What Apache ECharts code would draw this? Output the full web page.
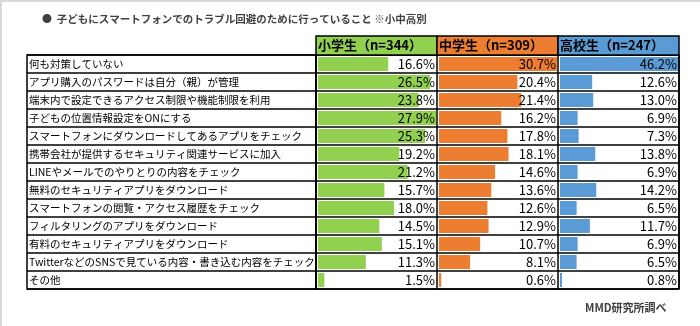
<!DOCTYPE html>
<html>
<head>
<meta charset="utf-8">
<script src="https://cdn.jsdelivr.net/npm/echarts@6/dist/echarts.min.js"></script>
<style>
html,body{margin:0;padding:0;background:#fff;}
#c{width:700px;height:326px;}
</style>
</head>
<body>
<div id="c"></div>
<script>
const categories = [
  '何も対策していない',
  'アプリ購入のパスワードは自分（親）が管理',
  '端末内で設定できるアクセス制限や機能制限を利用',
  '子どもの位置情報設定をONにする',
  'スマートフォンにダウンロードしてあるアプリをチェック',
  '携帯会社が提供するセキュリティ関連サービスに加入',
  'LINEやメールでのやりとりの内容をチェック',
  '無料のセキュリティアプリをダウンロード',
  'スマートフォンの閲覧・アクセス履歴をチェック',
  'フィルタリングのアプリをダウンロード',
  '有料のセキュリティアプリをダウンロード',
  'TwitterなどのSNSで見ている内容・書き込む内容をチェック',
  'その他'
];
const elementary = [16.6, 26.5, 23.8, 27.9, 25.3, 19.2, 21.2, 15.7, 18.0, 14.5, 15.1, 11.3, 1.5];
const juniorHigh = [30.7, 20.4, 21.4, 16.2, 17.8, 18.1, 14.6, 13.6, 12.6, 12.9, 10.7, 8.1, 0.6];
const highSchool = [46.2, 12.6, 13.0, 6.9, 7.3, 13.8, 6.9, 14.2, 6.5, 11.7, 6.9, 6.5, 0.8];
const groups = ['小学生（n=344）', '中学生（n=309）', '高校生（n=247）'];
const titleText = '子どもにスマートフォンでのトラブル回避のために行っていること ※小中高別';
const sourceText = 'MMD研究所調べ';

const colors = ['#92d050', '#ed7d31', '#5b9bd5'];
const seriesData = [elementary, juniorHigh, highSchool];
const FONT = '"Noto Sans CJK JP", "Noto Sans", sans-serif';

// layout
const tableLeft = 27, labelRight = 316, colW = 121;
const headTop = 36, rowTop = 55, rowH = 18;
const n = categories.length;
const tableH = rowH * n;
const LW = 1.5;

const grids = [], xAxes = [], yAxes = [], series = [];
// label column grid (index 0)
grids.push({left: tableLeft, top: rowTop, width: labelRight - tableLeft, height: tableH,
  show: true, borderColor: '#000', borderWidth: LW, backgroundColor: 'transparent'});
xAxes.push({gridIndex: 0, type: 'value', show: false, min: 0, max: 1});
yAxes.push({gridIndex: 0, type: 'category', data: categories, inverse: true,
  axisLine: {show: false}, axisTick: {show: false},
  axisLabel: {inside: true, margin: 2, fontSize: 10.5, color: '#000', fontFamily: FONT},
  splitLine: {show: true, interval: 0, lineStyle: {color: '#000', width: LW}}});
// value columns frame grid (index 1)
grids.push({left: labelRight, top: rowTop, width: colW * 3, height: tableH,
  show: true, borderColor: '#000', borderWidth: LW, backgroundColor: 'transparent'});
xAxes.push({gridIndex: 1, type: 'value', min: 0, max: 3, interval: 1,
  axisLine: {show: false}, axisTick: {show: false}, axisLabel: {show: false},
  splitLine: {show: true, lineStyle: {color: '#000', width: LW}}});
yAxes.push({gridIndex: 1, type: 'category', data: categories, inverse: true,
  axisLine: {show: false}, axisTick: {show: false}, axisLabel: {show: false},
  splitLine: {show: true, interval: 0, lineStyle: {color: '#000', width: LW}}});

// bar grids
seriesData.forEach((vals, i) => {
  const gi = i + 2;
  const mx = Math.max(...vals);
  grids.push({left: labelRight + colW * i + 2, top: rowTop, width: colW - 3, height: tableH});
  xAxes.push({gridIndex: gi, type: 'value', min: 0, max: mx, show: false});
  yAxes.push({gridIndex: gi, type: 'category', data: categories, inverse: true, show: false});
  series.push({
    type: 'bar', xAxisIndex: gi, yAxisIndex: gi, data: vals, barWidth: 14,
    itemStyle: {color: colors[i]}, silent: true, z: 2
  });
  series.push({
    type: 'bar', xAxisIndex: gi, yAxisIndex: gi, data: vals.map(() => mx), barWidth: 14,
    barGap: '-100%', itemStyle: {color: 'transparent'}, silent: true, z: 3,
    label: {show: true, position: 'insideRight', distance: 1, fontSize: 13, color: '#000',
      fontFamily: FONT, formatter: p => vals[p.dataIndex].toFixed(1) + '%'}
  });
});

const graphic = [
  {type: 'rect', shape: {x: 0, y: 0, width: 700, height: 2}, style: {fill: '#d9d9d9'}, silent: true},
  {type: 'rect', shape: {x: 0, y: 0, width: 2, height: 326}, style: {fill: '#d9d9d9'}, silent: true}
];
groups.forEach((g, i) => {
  graphic.push({type: 'rect', z: 10,
    shape: {x: labelRight + colW * i, y: headTop, width: colW, height: rowTop - headTop},
    style: {fill: colors[i], stroke: '#000', lineWidth: LW}});
  graphic.push({type: 'text', z: 11, x: labelRight + colW * i + 2, y: (headTop + rowTop) / 2,
    style: {text: g, fill: '#000', font: 'bold 13px ' + FONT, textVerticalAlign: 'middle', verticalAlign: 'middle'}});
});

const chart = echarts.init(document.getElementById('c'), null, {renderer: 'canvas'});
chart.setOption({
  animation: false,
  backgroundColor: '#fff',
  title: [
    {text: '{b|●}  ' + titleText, left: 37, top: 9,
      textStyle: {fontSize: 10.5, fontWeight: 'bold', color: '#404040', fontFamily: FONT,
        rich: {b: {fontSize: 10, color: '#404040', fontFamily: FONT}}}},
    {text: sourceText, left: 580, top: 297,
      textStyle: {fontSize: 11, fontWeight: 'bold', color: '#404040', fontFamily: FONT}}
  ],
  grid: grids, xAxis: xAxes, yAxis: yAxes, series: series, graphic: graphic
});
</script>
</body>
</html>
